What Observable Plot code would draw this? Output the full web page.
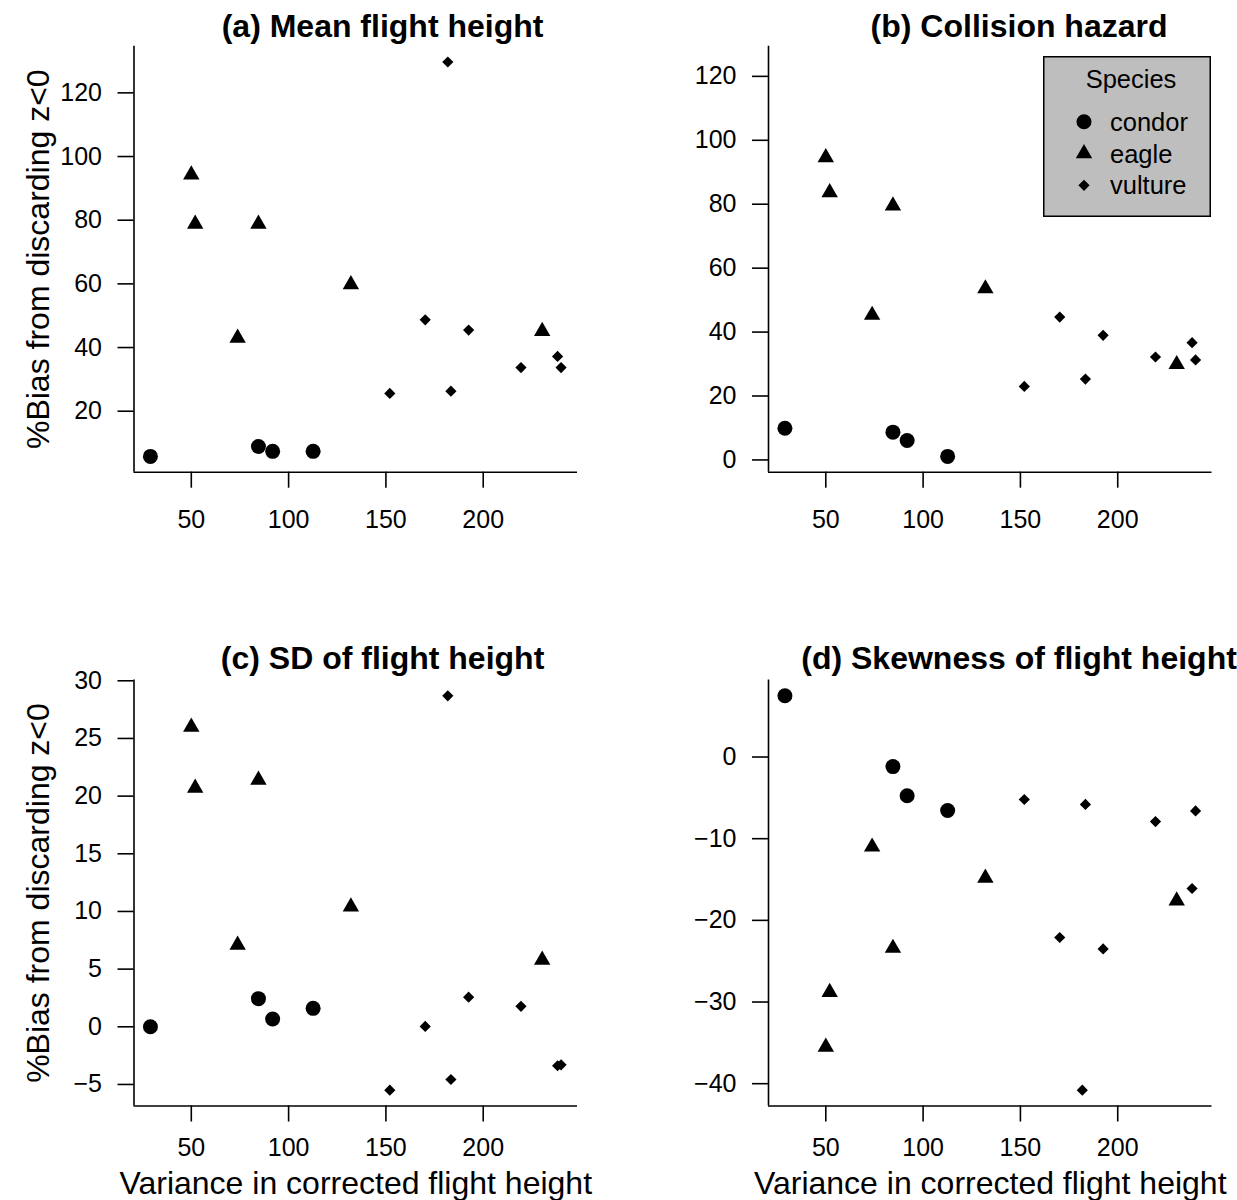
<!DOCTYPE html>
<html><head><meta charset="utf-8">
<script src="https://cdn.jsdelivr.net/npm/d3@7"></script>
<script src="https://cdn.jsdelivr.net/npm/@observablehq/plot@0.6"></script>
<style>
html,body{margin:0;padding:0;background:#fff;}
#chart{position:relative;width:1237px;height:1200px;font-family:"Liberation Sans",Arial,Helvetica,sans-serif;color:#000;overflow:hidden;background:#fff;}
#chart > svg{position:absolute;overflow:visible;}
#legend{position:absolute;}
</style></head><body><div id="chart"></div>
<script>
// ---------------- data ----------------
const speciesNames = ["condor", "eagle", "vulture"];
const xTicks = [50, 100, 150, 200];

// variance in corrected flight height (x), per individual
const condorVar  = [29, 84.5, 91.8, 112.6];
const eagleVar   = [50, 52, 73.8, 84.5, 132, 230.3];
const vultureVar = [152, 170.2, 181.8, 183.4, 192.5, 219.4, 238.2, 240];

// (a) mean flight height
const meanCondor  = [5.8, 8.9, 7.4, 7.4];
const meanEagle   = [94.3, 78.8, 43.0, 78.8, 59.8, 45.1];
const meanVulture = [25.6, 48.7, 129.7, 26.3, 45.5, 33.7, 37.2, 33.7];
// (b) collision hazard (third vulture lies under the legend)
const hazCondor  = [9.9, 8.7, 6.1, 1.1];
const hazEagle   = [94.6, 83.7, 45.3, 79.5, 53.6, 29.9];
const hazVulture = [23.0, 44.7, 124.5, 25.3, 39.0, 32.2, 36.7, 31.3];
// (c) SD of flight height
const sdCondor  = [0.0, 2.44, 0.68, 1.6];
const sdEagle   = [26.0, 20.7, 7.1, 21.4, 10.4, 5.8];
const sdVulture = [-5.5, 0.03, 28.7, -4.57, 2.57, 1.77, -3.38, -3.3];
// (d) skewness of flight height
const skCondor  = [7.5, -1.17, -4.74, -6.55];
const skEagle   = [-35.5, -28.8, -11.0, -23.4, -14.8, -17.6];
const skVulture = [-5.2, -22.1, -40.8, -5.8, -23.5, -7.9, -16.1, -6.6];

const panelTitles = ["(a) Mean flight height", "(b) Collision hazard", "(c) SD of flight height", "(d) Skewness of flight height"];
const yTicksA = [20, 40, 60, 80, 100, 120];
const yTicksB = [0, 20, 40, 60, 80, 100, 120];
const yTicksC = [-5, 0, 5, 10, 15, 20, 25, 30];
const yTicksD = [-40, -30, -20, -10, 0];
const yLabel = "%Bias from discarding z<0";
const xLabel = "Variance in corrected flight height";
const legendTitle = "Species";

// ---------------- symbols (R pch 19, 17, 18) ----------------
const circleSym = {draw(ctx) { const r = 7.5; ctx.moveTo(r, 0); ctx.arc(0, 0, r, 0, 2 * Math.PI); ctx.closePath(); }};
const triSym = {draw(ctx) { const s = 16.4, h = s * Math.sqrt(3) / 2; ctx.moveTo(0, -2 * h / 3); ctx.lineTo(s / 2, h / 3); ctx.lineTo(-s / 2, h / 3); ctx.closePath(); }};
const diaSym = {draw(ctx) { const d = 5.6; ctx.moveTo(0, -d); ctx.lineTo(d, 0); ctx.lineTo(0, d); ctx.lineTo(-d, 0); ctx.closePath(); }};
const symbolsBySpecies = {condor: circleSym, eagle: triSym, vulture: diaSym};

function padDomain(vals) {
  const [a, b] = d3.extent(vals);
  const p = 0.04 * (b - a);
  return [a - p, b + p];
}
const xDomain = padDomain([...condorVar, ...eagleVar, ...vultureVar]);

function rowsFor(c, e, v) {
  return [
    ...condorVar.map((x, i) => ({x, y: c[i], sp: "condor"})),
    ...eagleVar.map((x, i) => ({x, y: e[i], sp: "eagle"})),
    ...vultureVar.map((x, i) => ({x, y: v[i], sp: "vulture"}))
  ];
}

const chart = document.getElementById("chart");

function makePanel(cfg) {
  const rows = rowsFor(cfg.c, cfg.e, cfg.v);
  const yDomain = padDomain(rows.map(d => d.y));
  const marks = [
    Plot.ruleX([xDomain[0]], {stroke: "black", strokeWidth: 1.6}),
    Plot.ruleY([yDomain[0]], {stroke: "black", strokeWidth: 1.6}),
    Plot.axisX({ticks: xTicks, tickSize: 16, tickPadding: cfg.xPad, fontSize: 25, strokeWidth: 1.6, label: null}),
    Plot.axisY({ticks: cfg.yTicks, tickSize: 16, tickPadding: 16, fontSize: 25, strokeWidth: 1.6, label: null}),
    ...speciesNames.map(sp => Plot.dot(rows.filter(d => d.sp === sp), {
      x: "x", y: "y", symbol: symbolsBySpecies[sp], fill: "black", stroke: "none", r: 7
    })),
    Plot.text([cfg.title], {text: d => d, frameAnchor: "top", lineAnchor: "bottom", dx: cfg.titleDx, dy: cfg.titleDy, fontSize: 32, fontWeight: "bold"})
  ];
  if (cfg.showY) marks.push(Plot.text([yLabel], {text: d => d, frameAnchor: "left", rotate: -90, lineAnchor: "middle", textAnchor: "middle", dx: 38 - cfg.marginLeft, fontSize: 32}));
  if (cfg.showX) marks.push(Plot.text([xLabel], {text: d => d, frameAnchor: "bottom", lineAnchor: "bottom", textAnchor: "middle", dy: cfg.xLabelDy, fontSize: 32}));
  const svg = Plot.plot({
    width: cfg.width, height: 600,
    marginLeft: cfg.marginLeft, marginRight: cfg.marginRight,
    marginTop: cfg.marginTop, marginBottom: cfg.marginBottom,
    x: {domain: xDomain},
    y: {domain: yDomain},
    style: {background: "transparent", overflow: "visible", fontFamily: '"Liberation Sans", Arial, sans-serif', color: "black"},
    marks
  });
  svg.style.left = cfg.left + "px";
  svg.style.top = cfg.top + "px";
  chart.appendChild(svg);
}

const leftCol = {left: 0, width: 618, marginLeft: 133.5, marginRight: 41, titleDx: 26.8};
const rightCol = {left: 618, width: 619, marginLeft: 150, marginRight: 25.5, titleDx: 28.8};
const topRow = {top: 0, marginTop: 45.7, marginBottom: 128.3, titleDy: -9, xPad: 22, showX: false};
const botRow = {top: 600, marginTop: 79.5, marginBottom: 94.5, titleDy: -11, xPad: 16, showX: true, xLabelDy: 87.5};

makePanel({...leftCol, ...topRow, title: panelTitles[0], c: meanCondor, e: meanEagle, v: meanVulture, yTicks: yTicksA, showY: true});
makePanel({...rightCol, ...topRow, title: panelTitles[1], c: hazCondor, e: hazEagle, v: hazVulture, yTicks: yTicksB, showY: false});
makePanel({...leftCol, ...botRow, title: panelTitles[2], c: sdCondor, e: sdEagle, v: sdVulture, yTicks: yTicksC, showY: true});
makePanel({...rightCol, ...botRow, title: panelTitles[3], c: skCondor, e: skEagle, v: skVulture, yTicks: yTicksD, showY: false});

// ---------------- legend (drawn over panel b, like R's legend with bg) ----------------
const lw = 168, lh = 161;
const leg = d3.create("svg").attr("id", "legend").attr("width", lw).attr("height", lh)
  .style("left", "1043px").style("top", "56px").style("position", "absolute")
  .style("font-family", '"Liberation Sans", Arial, sans-serif');
leg.append("rect").attr("x", 0.75).attr("y", 0.75).attr("width", lw - 1.5).attr("height", lh - 1.5)
  .attr("fill", "#bebebe").attr("stroke", "black").attr("stroke-width", 1.5);
leg.append("text").attr("x", 88).attr("y", 32.3).attr("text-anchor", "middle").attr("font-size", 25.5).text(legendTitle);
speciesNames.forEach((sp, i) => {
  const cy = 65.7 + i * 31.8;
  const p = d3.path();
  symbolsBySpecies[sp].draw(p);
  leg.append("path").attr("d", p.toString()).attr("transform", `translate(41,${cy})`).attr("fill", "black");
  leg.append("text").attr("x", 67).attr("y", cy + 9).attr("font-size", 25.5).text(sp);
});
chart.appendChild(leg.node());
</script>
</body></html>
